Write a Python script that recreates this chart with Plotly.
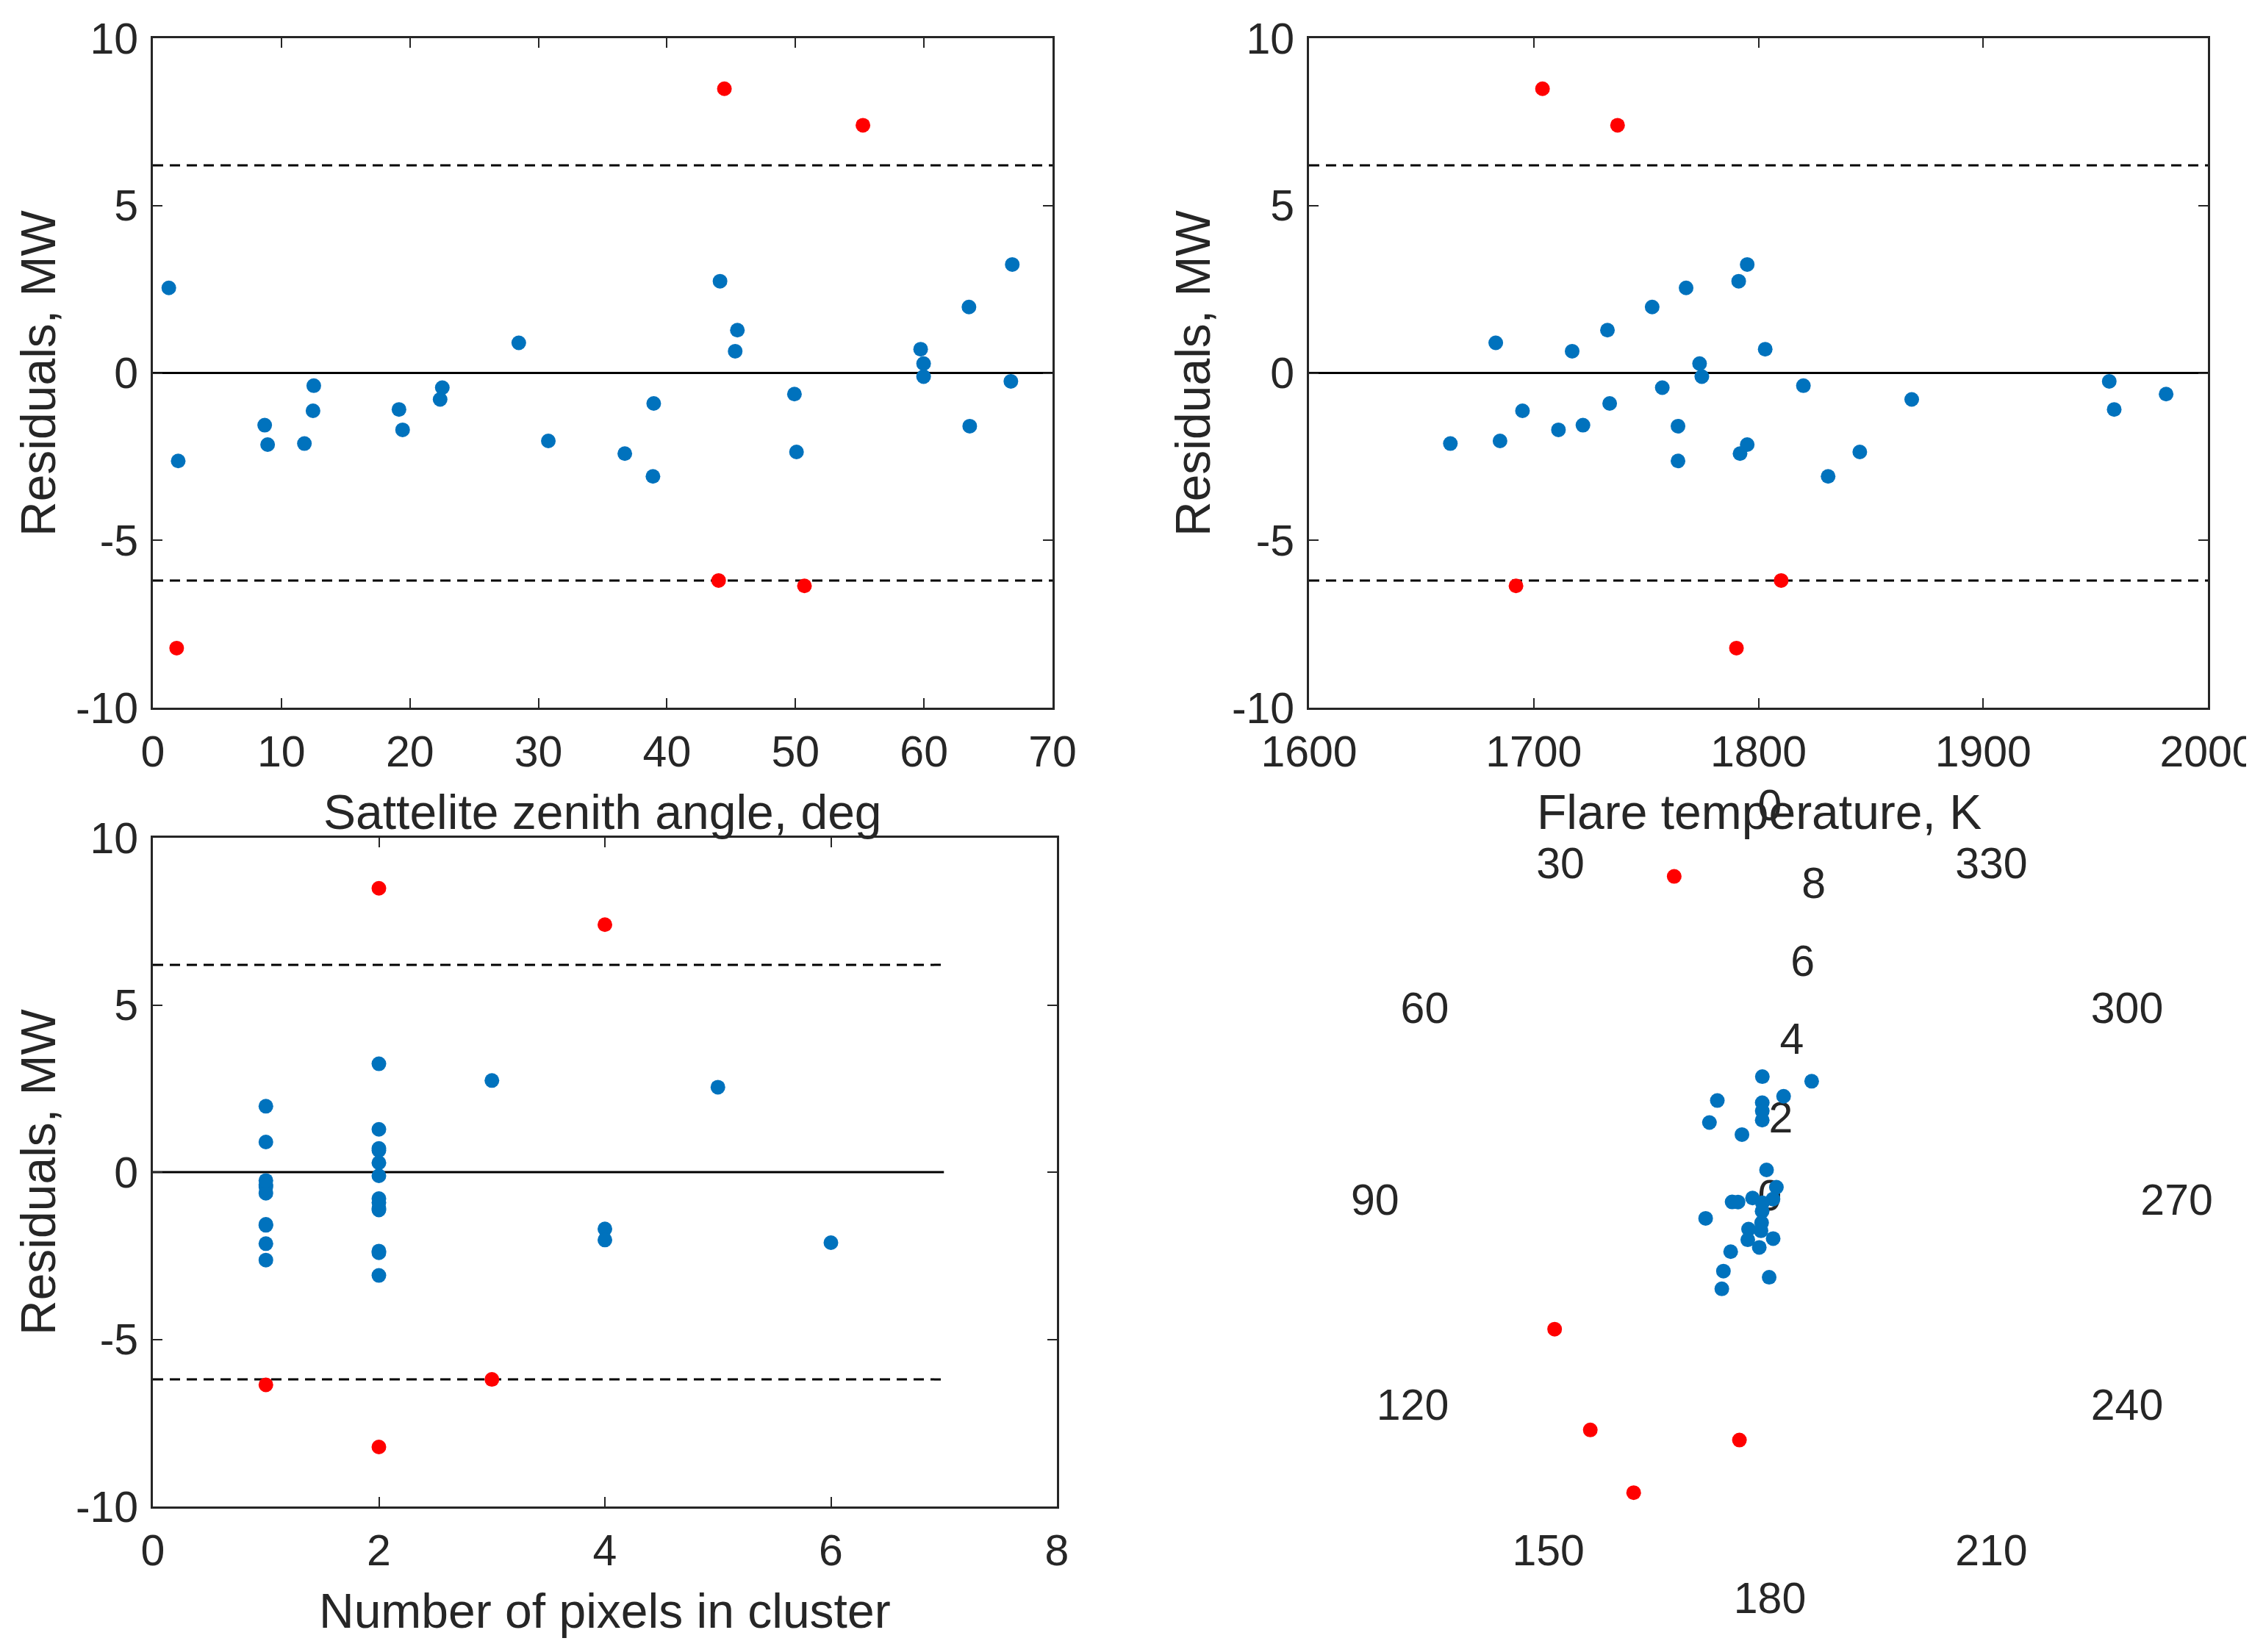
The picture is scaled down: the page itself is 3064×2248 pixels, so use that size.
import plotly.graph_objects as go

# ---------------- data ----------------
# regular points (blue)
res_blue = [2.54, -2.63, -1.56, -2.14, -2.11, -0.38, -1.13, -1.09, -1.70, -0.79,
            -0.44, 0.90, -2.03, -2.41, -3.09, -0.91, 2.74, 1.28, 0.65, -0.63,
            -2.36, 0.71, 0.28, -0.11, 1.97, -1.59, -0.25, 3.24]
zen_blue = [1.24, 1.97, 8.70, 8.93, 11.79, 12.52, 12.46, 19.15, 19.43, 22.35,
            22.52, 28.47, 30.77, 36.72, 38.91, 38.97, 44.13, 45.48, 45.31, 49.92,
            50.08, 59.74, 59.97, 59.97, 63.50, 63.56, 66.76, 66.87]
temp_blue = [1767.8, 1764.2, 1721.9, 1795.0, 1662.9, 1820.0, 1695.0, 1958.3, 1711.0, 1868.2,
             1757.2, 1683.1, 1685.0, 1791.8, 1831.0, 1733.8, 1791.2, 1732.8, 1717.1, 1981.4,
             1845.1, 1803.0, 1773.8, 1774.8, 1752.7, 1764.2, 1956.1, 1795.0]
pix_blue = [5, 1, 1, 1, 6, 1, 2, 2, 4, 2,
            1, 1, 4, 2, 2, 2, 3, 2, 2, 1,
            2, 2, 2, 2, 1, 1, 1, 2]

# outliers (red)
res_red = [8.49, 7.40, -6.20, -6.36, -8.22]
zen_red = [44.47, 55.25, 44.02, 50.70, 1.85]
temp_red = [1703.9, 1737.3, 1810.1, 1692.1, 1790.2]
pix_red = [2, 4, 3, 1, 2]

# polar panel (angle in degrees, radius)
theta_blue = [3.5, 340.5, 352.4, 28.0, 4.5, 4.9, 5.5, 38.2, 23.3, 6.4,
              331.6, 275.0, 85.7, 94.0, 94.8, 115.0, 147.0, 106.5, 160.6, 144.5,
              164.3, 151.4, 184.8, 167.6, 143.2, 147.1, 179.5, 151.8]
r_blue = [3.12, 3.18, 2.64, 2.84, 2.46, 2.25, 2.02, 2.48, 1.79, 0.75,
          0.35, 0.08, 0.44, 0.96, 0.81, 0.21, 0.36, 1.70, 0.63, 0.93,
          0.83, 1.17, 1.00, 1.25, 1.66, 2.17, 1.98, 2.58]
theta_red = [16.5, 121.1, 142.1, 155.1, 172.8]
r_red = [8.55, 6.38, 7.42, 8.21, 6.16]

# reference lines
threshold = 6.2
line_x1 = [0, 70]
line_x2 = [1600, 2000]
line_x3 = [0, 7]

# tick labels
y_ticks = [-10, -5, 0, 5, 10]
y_ticktext = ["-10", "-5", "0", "5", "10"]
x1_ticks = [0, 10, 20, 30, 40, 50, 60, 70]
x2_ticks = [1600, 1700, 1800, 1900, 2000]
x3_ticks = [0, 2, 4, 6, 8]
ang_ticks = [0, 30, 60, 90, 120, 150, 180, 210, 240, 270, 300, 330]
rad_ticks = [0, 2, 4, 6, 8]
rad_label_theta = 352  # direction along which the radial tick labels sit

# axis titles
y_title = "Residuals, MW"
x1_title = "Sattelite zenith angle, deg"
x2_title = "Flare temperature, K"
x3_title = "Number of pixels in cluster"

# ---------------- style ----------------
BLUE = "#0072BD"
RED = "#FF0000"
TXT = "#262626"
FONT = "Liberation Sans"
W, H = 3064, 2248
MS = 20
TICK_FS = 59
TITLE_FS = 66

fig = go.Figure()

panels = [
    ("x", "y", zen_blue, zen_red, line_x1),
    ("x2", "y2", temp_blue, temp_red, line_x2),
    ("x3", "y3", pix_blue, pix_red, line_x3),
]
for xa, ya, xb, xr, lx in panels:
    fig.add_trace(go.Scatter(x=lx, y=[0, 0], mode="lines", xaxis=xa, yaxis=ya,
                             line=dict(color="black", width=3), showlegend=False))
    for s in (threshold, -threshold):
        fig.add_trace(go.Scatter(x=lx, y=[s, s], mode="lines", xaxis=xa, yaxis=ya,
                                 line=dict(color="black", width=3, dash="14px,9px"),
                                 showlegend=False))
    fig.add_trace(go.Scatter(x=xb, y=res_blue, mode="markers", xaxis=xa, yaxis=ya,
                             marker=dict(color=BLUE, size=MS), showlegend=False))
    fig.add_trace(go.Scatter(x=xr, y=res_red, mode="markers", xaxis=xa, yaxis=ya,
                             marker=dict(color=RED, size=MS), showlegend=False))

# radial tick labels (drawn first so the markers cover them, as in the original)
fig.add_trace(go.Scatterpolar(theta=[rad_label_theta] * len(rad_ticks), r=rad_ticks,
                              mode="text", text=[str(t) for t in rad_ticks],
                              textposition="middle center",
                              textfont=dict(family=FONT, size=TICK_FS, color=TXT),
                              showlegend=False, hoverinfo="skip"))
fig.add_trace(go.Scatterpolar(theta=theta_blue, r=r_blue, mode="markers",
                              marker=dict(color=BLUE, size=MS), showlegend=False))
fig.add_trace(go.Scatterpolar(theta=theta_red, r=r_red, mode="markers",
                              marker=dict(color=RED, size=MS), showlegend=False))


def px_x(a, b):
    return [a / W, b / W]


def px_y(top, bottom):
    return [1 - bottom / H, 1 - top / H]


common = dict(showline=True, linecolor=TXT, linewidth=3, mirror="ticks",
              ticks="inside", ticklen=13, tickwidth=2, tickcolor=TXT,
              showgrid=False, zeroline=False, automargin=False,
              tickfont=dict(family=FONT, size=TICK_FS, color=TXT))


def xaxis(rng, ticks, dom, anchor):
    return dict(domain=dom, anchor=anchor, range=rng, tickvals=ticks,
                ticklabelstandoff=6, **common)


def yaxis(dom, anchor):
    return dict(domain=dom, anchor=anchor, range=[-10, 10], tickvals=y_ticks,
                ticktext=y_ticktext, ticklabelstandoff=5, **common)


x1_dom = px_x(200, 1424)
x2_dom = px_x(1773, 2996)
x3_dom = px_x(200, 1430)
top_y = px_y(44, 955)
bot_y = px_y(1132, 2042)


# titles as paper annotations
def ann(text, x, y, angle=0):
    return dict(text=text, x=x / W, y=1 - y / H, xref="paper", yref="paper",
                xanchor="center", yanchor="middle", showarrow=False, textangle=angle,
                font=dict(family=FONT, size=TITLE_FS, color=TXT))


annotations = [
    ann(y_title, 44, 500, -90),
    ann(y_title, 1615, 500, -90),
    ann(y_title, 44, 1587, -90),
    ann(x1_title, 812, 1097),
    ann(x2_title, 2385, 1097),
    ann(x3_title, 815, 2184),
]

# polar geometry
cx, cy = 2400, 1624
unit = 53.6
rmax = 9.4
R = rmax * unit

fig.update_layout(
    width=W, height=H,
    margin=dict(l=0, r=0, t=0, b=0),
    paper_bgcolor="white", plot_bgcolor="white",
    font=dict(family=FONT, color=TXT),
    xaxis=xaxis([0, 70], x1_ticks, x1_dom, "y"),
    yaxis=yaxis(top_y, "x"),
    xaxis2=xaxis([1600, 2000], x2_ticks, x2_dom, "y2"),
    yaxis2=yaxis(top_y, "x2"),
    xaxis3=xaxis([0, 8], x3_ticks, x3_dom, "y3"),
    yaxis3=yaxis(bot_y, "x3"),
    annotations=annotations,
    polar=dict(
        domain=dict(x=px_x(cx - R, cx + R), y=px_y(cy - R, cy + R)),
        bgcolor="white",
        angularaxis=dict(rotation=90, direction="counterclockwise",
                         tickvals=ang_ticks, ticktext=[str(t) for t in ang_ticks],
                         showgrid=False, showline=False, ticks="",
                         tickfont=dict(family=FONT, size=TICK_FS, color=TXT)),
        radialaxis=dict(range=[0, rmax], tickvals=rad_ticks,
                        showgrid=False, showline=False, ticks="",
                        showticklabels=False),
    ),
)

fig.write_html("out.html")
